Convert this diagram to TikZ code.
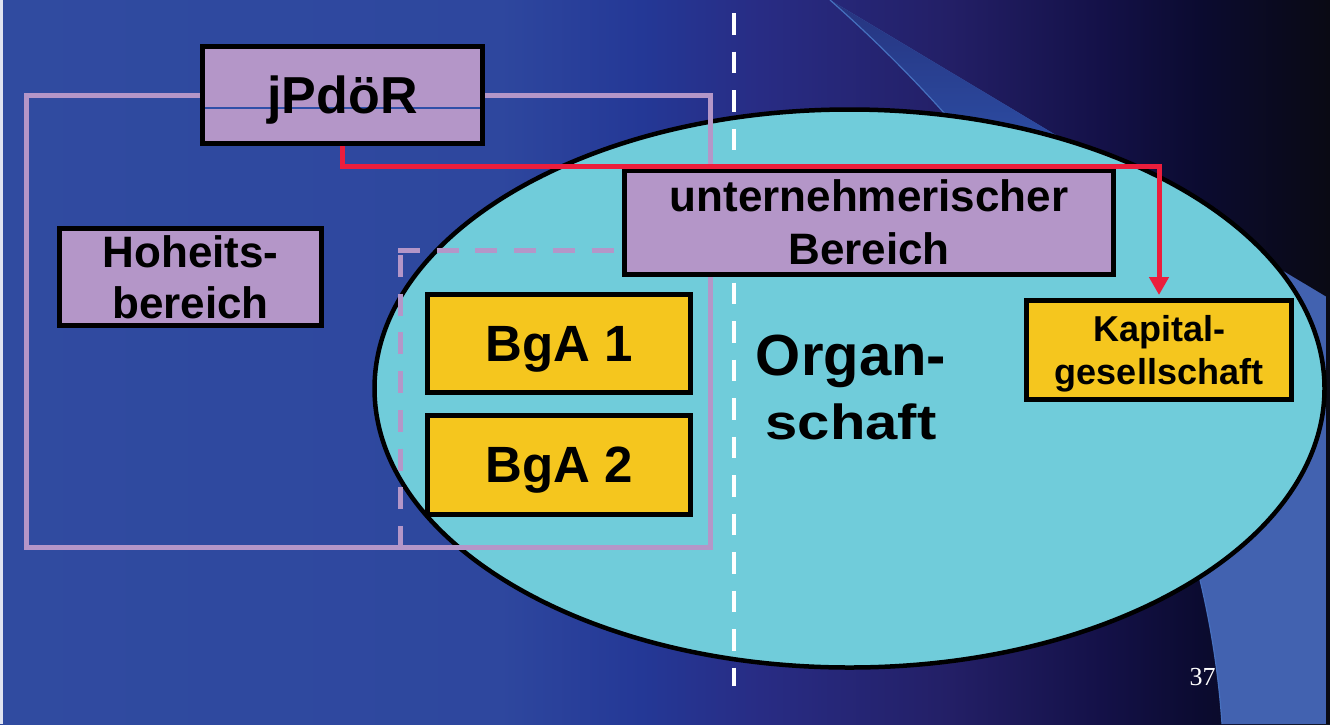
\documentclass[tikz,border=0pt]{standalone}
\usepackage{fontspec}
\setmainfont{Liberation Sans}
\newfontfamily\serifnum{Liberation Serif}
\usetikzlibrary{shapes.geometric,arrows.meta}

\definecolor{lav}{HTML}{B496C8}
\definecolor{ylw}{HTML}{F5C61E}
\definecolor{cyn}{HTML}{70CCDA}
\definecolor{rd}{HTML}{EB1E3C}
\definecolor{thinblue}{HTML}{2F4FA8}
\definecolor{bgA}{HTML}{304BA0}
\definecolor{bgB}{HTML}{2E479E}
\definecolor{bgC}{HTML}{243896}
\definecolor{bgD}{HTML}{282C84}
\definecolor{bgE}{HTML}{231F66}
\definecolor{bgF}{HTML}{141148}
\definecolor{bgG}{HTML}{0B0B30}
\definecolor{bgH}{HTML}{0A0A14}
\definecolor{swA}{HTML}{26347F}
\definecolor{swT}{HTML}{2C4DA4}
\definecolor{swB}{HTML}{4262B0}
\definecolor{swC}{HTML}{4670BE}

\pgfdeclarehorizontalshading{bgshade}{100bp}{color(0bp)=(bgA); color(25bp)=(bgA); color(43.8bp)=(bgB); color(49.1bp)=(bgC); color(53.6bp)=(bgD); color(60.7bp)=(bgE); color(66.4bp)=(bgF); color(70.1bp)=(bgG); color(75bp)=(bgH); color(100bp)=(bgH)}

\begin{document}
\begin{tikzpicture}[x=1pt,y=-1pt,
  box/.style={draw=black, line width=5pt, inner sep=0pt, text depth=0pt, align=center, text=black},
  lavbox/.style={box, fill=lav},
  ylwbox/.style={box, fill=ylw},
  fbig/.style={font=\bfseries\fontsize{52}{60}\selectfont},
  fbga/.style={font=\bfseries\fontsize{51}{60}\selectfont},
  fmid/.style={font=\bfseries\fontsize{44}{51}\selectfont},
  funt/.style={font=\bfseries\fontsize{44}{53}\selectfont},
  fsmall/.style={font=\bfseries\fontsize{36}{43}\selectfont},
  lavline/.style={draw=lav, line width=5pt},
  redconn/.style={draw=rd, line width=5pt, -{Triangle[width=19pt,length=18pt]}, shorten >=3pt}
]
\useasboundingbox (0,0) rectangle (1330,724);
% background
\shade[shading=bgshade] (0,0) rectangle (1330,724);
% swoosh
\fill[swB]
  (830,0) .. controls (1000,150) and (1200,400) .. (1222,724) -- (1330,724) -- (1330,299) -- cycle;
\begin{scope}
  \clip (830,0) .. controls (1000,150) and (1200,400) .. (1222,724) -- (1330,724) -- (1330,299) -- cycle;
  \shade[top color=swA, bottom color=swT] (800,0) rectangle (1110,150);
\end{scope}
\draw[swC, line width=1.2pt] (830,0) .. controls (1000,150) and (1200,400) .. (1222,724);
\fill[bgH] (1326,0) rectangle (1330,724);
\fill[white!85!bgA] (0,0) rectangle (2.5,724);

% Organschaft ellipse
\node[ellipse, draw=black, line width=4.5pt, fill=cyn, minimum width=950pt, minimum height=558pt, inner sep=0pt] (org) at (849.5,388.5) {};

% white dashed divider
\coordinate (wtop) at (734,13);
\coordinate (wbot) at (734,686);
\draw[white, line width=4.5pt, dash pattern=on 21.5pt off 17pt] (wtop) -- (wbot);

% lavender frames
\draw[lavline] (26,95) rectangle (710,547.5);
\draw[lavline, dash pattern=on 22pt off 16.7pt] (398,250) -- (710,250);
\draw[lavline, dash pattern=on 22pt off 16.7pt] (400,255) -- (400,547.5);

% boxes
\node[lavbox, fbig, minimum width=280pt, minimum height=97pt,
  path picture={\draw[thinblue, line width=1.2pt] ([yshift=-13pt]path picture bounding box.west) -- ([yshift=-13pt]path picture bounding box.east);}] (jp) at (342.5,95) {jPdöR};
\node[lavbox, fmid, minimum width=262pt, minimum height=97pt] (hoh) at (190.5,277) {Hoheits-\\bereich};
\node[ylwbox, fbga, minimum width=263pt, minimum height=98pt] (bga1) at (559,343.5) {BgA 1};
\node[ylwbox, fbga, minimum width=263pt, minimum height=99pt] (bga2) at (559,465) {BgA 2};
\node[lavbox, funt, minimum width=489pt, minimum height=104pt] (unt) at (869,222.5) {unternehmerischer\\Bereich};
\node[ylwbox, fsmall, minimum width=265pt, minimum height=99pt] (kap) at (1159,350) {Kapital-\\gesellschaft};

% red connector
\coordinate (bend) at (1159,166.5);
\draw[redconn] (jp.south) |- (bend) -- (kap.north);

% Organschaft label
\node[font=\bfseries\fontsize{58}{64}\selectfont, align=center, inner sep=0pt, text depth=0pt] (orgtxt) at (851,387.5) {Organ-\\\scalebox{1}[0.85]{schaft}};

% page number
\node[font=\serifnum\fontsize{26}{28}\selectfont, text=white, inner sep=0pt, text depth=0pt] (pg) at (1202.5,676.5) {37};
\end{tikzpicture}
\end{document}
